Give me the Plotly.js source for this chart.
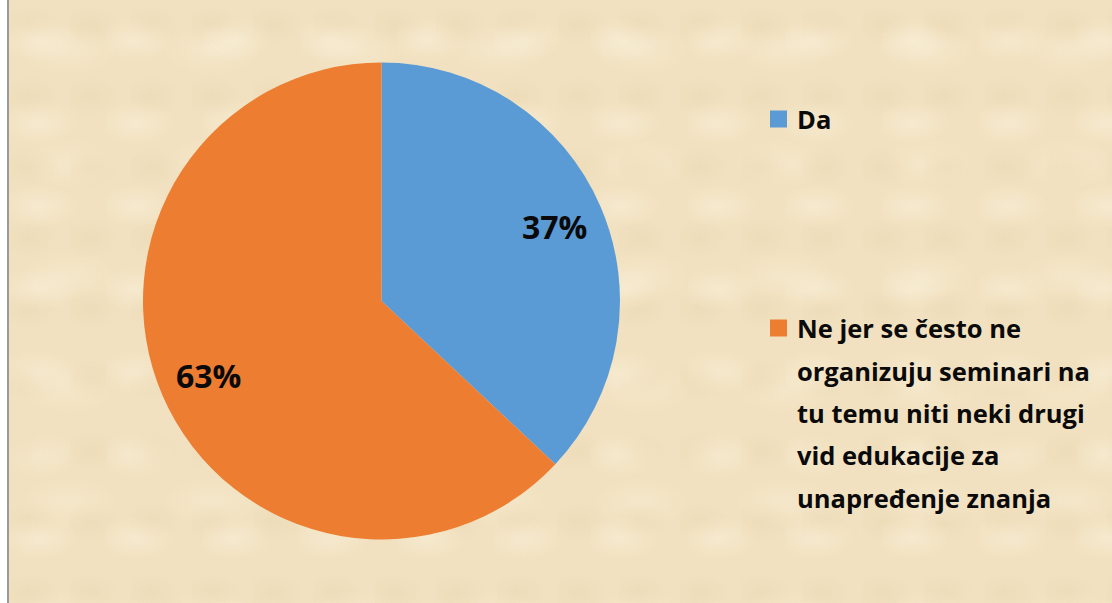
<!DOCTYPE html>
<html>
<head>
<meta charset="utf-8">
<script src="https://cdn.plot.ly/plotly-3.0.1.min.js"></script>
<style>
html,body{margin:0;padding:0;background:#ffffff;width:1112px;height:603px;overflow:hidden;}
#bg{position:absolute;left:7px;top:0;width:1105px;height:603px;border-left:2px solid #9a9a9a;
background-color:#F1E1C0;
background-image:
radial-gradient(ellipse 40px 22px at 30px 40px, rgba(255,248,230,0.35), rgba(255,248,230,0) 100%),
radial-gradient(ellipse 30px 20px at 20px 25px, rgba(228,203,160,0.22), rgba(228,203,160,0) 100%),
radial-gradient(ellipse 50px 25px at 60px 50px, rgba(255,248,230,0.25), rgba(255,248,230,0) 100%);
background-size:97px 83px, 61px 71px, 143px 113px;
}
#chart{position:absolute;left:0;top:0;width:1112px;height:603px;}
</style>
</head>
<body>
<div id="bg"></div>
<div id="chart"></div>
<script>
// Data
const labels = ["Da", "Ne jer se često ne organizuju seminari na tu temu niti neki drugi vid edukacije za unapređenje znanja"];
const legendLines = [
  ["Da"],
  ["Ne jer se često ne", "organizuju seminari na", "tu temu niti neki drugi", "vid edukacije za", "unapređenje znanja"]
];
const values = [37, 63];
const colors = ["#5B9BD5", "#ED7D31"];

const W = 1112, H = 603;
const FONT = "'Open Sans', 'Noto Sans', sans-serif";

// Legend built from the label lines
const legendX = 770, textX = 797, sq = 17;
const firstLineY = [119, 328];
const lineStep = 42.5;
const annotations = [];
const shapes = [];
legendLines.forEach((lines, i) => {
  shapes.push({type: "rect", xref: "paper", yref: "paper",
    x0: legendX / W, x1: (legendX + sq) / W,
    y0: 1 - (firstLineY[i] + sq / 2) / H, y1: 1 - (firstLineY[i] - sq / 2) / H,
    fillcolor: colors[i], line: {width: 0}});
  lines.forEach((ln, j) => {
    annotations.push({xref: "paper", yref: "paper", x: (textX - 2) / W,
      y: 1 - (firstLineY[i] + j * lineStep) / H,
      xanchor: "left", yanchor: "middle", showarrow: false,
      text: "<b>" + ln + "</b>",
      font: {family: FONT, size: 25.5, color: "#0a0a0a"}});
  });
});

// Percent labels placed along each slice's mid-angle
const cx = 381.5, cy = 301, R = 238.5;
const total = values.reduce((a, b) => a + b, 0);
let cum = 0;
values.forEach((v, i) => {
  const th = 2 * Math.PI * (cum + v / 2) / total;
  cum += v;
  const r = 0.79 * R;
  const px = cx + r * Math.sin(th), py = cy - r * Math.cos(th);
  annotations.push({xref: "paper", yref: "paper", x: px / W, y: 1 - py / H,
    xanchor: "center", yanchor: "middle", showarrow: false,
    text: "<b>" + Math.round(v / total * 100) + "%</b>",
    font: {family: FONT, size: 32, color: "#0a0a0a"}});
});

const trace = {
  type: "pie",
  labels: labels,
  values: values,
  marker: {colors: colors, line: {color: "rgba(0,0,0,0)", width: 0}},
  sort: false,
  direction: "clockwise",
  rotation: 0,
  textinfo: "none",
  domain: {x: [(cx - R) / W, (cx + R) / W], y: [1 - (cy + R) / H, 1 - (cy - R) / H]},
  showlegend: false,
  hoverinfo: "label+percent"
};

Plotly.newPlot("chart", [trace], {
  width: W, height: H,
  margin: {l: 0, r: 0, t: 0, b: 0},
  paper_bgcolor: "rgba(0,0,0,0)",
  plot_bgcolor: "rgba(0,0,0,0)",
  showlegend: false,
  annotations: annotations,
  shapes: shapes
}, {displayModeBar: false, staticPlot: true});
</script>
</body>
</html>
